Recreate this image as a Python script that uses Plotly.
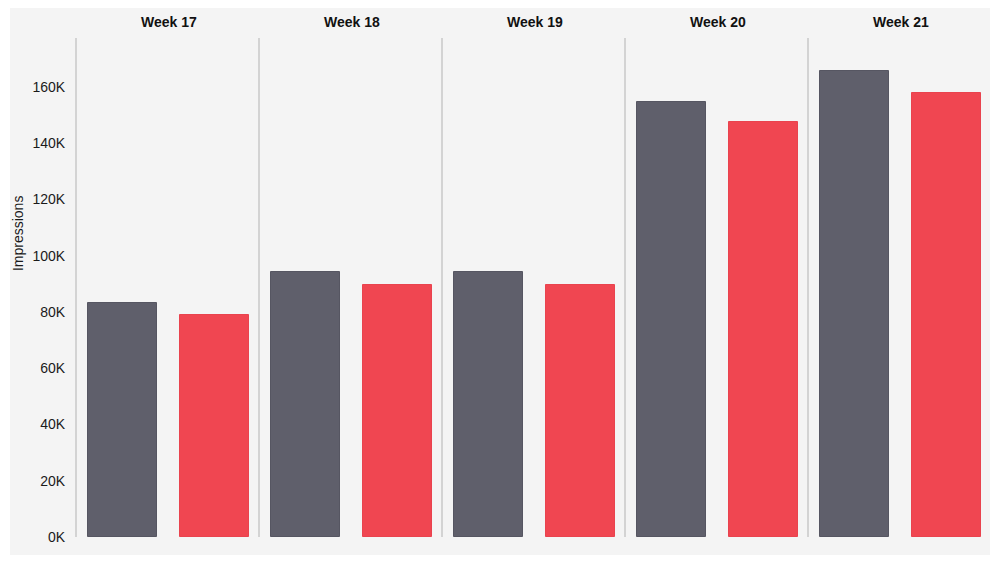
import plotly.graph_objects as go
from plotly.subplots import make_subplots

# values
weeks = ["Week 17", "Week 18", "Week 19", "Week 20", "Week 21"]
series_names = ["Series A", "Series B"]
series_a = [83200, 94200, 94200, 154700, 165700]
series_b = [78900, 89600, 89600, 147600, 157900]
tick_vals = [0, 20000, 40000, 60000, 80000, 100000, 120000, 140000, 160000]
tick_text = ["0K", "20K", "40K", "60K", "80K", "100K", "120K", "140K", "160K"]

GRAY = "#5f5f6b"
RED = "#f04651"
BG = "#f4f4f4"
FONT = "Liberation Sans, Arial, sans-serif"

fig = make_subplots(
    rows=1,
    cols=len(weeks),
    shared_yaxes=True,
    horizontal_spacing=0,
    subplot_titles=[f"<b>{w}</b>" for w in weeks],
)

for i, week in enumerate(weeks):
    fig.add_trace(
        go.Bar(
            x=series_names,
            y=[series_a[i], series_b[i]],
            width=0.755,
            marker=dict(
                color=[GRAY, RED],
                line=dict(color=["#565662", "#e9434e"], width=1),
            ),
            showlegend=False,
            hovertemplate=week + "<br>%{x}: %{y:,}<extra></extra>",
        ),
        row=1,
        col=i + 1,
    )

fig.update_xaxes(
    range=[-0.5, 1.5],
    showticklabels=False,
    showgrid=False,
    zeroline=False,
    showline=False,
    fixedrange=True,
)
fig.update_yaxes(
    range=[0, 177400],
    tickvals=tick_vals,
    ticktext=tick_text,
    ticks="",
    ticklabelstandoff=7,
    showgrid=False,
    zeroline=False,
    showline=True,
    linecolor="#d3d3d3",
    linewidth=2,
    tickfont=dict(family=FONT, size=14, color="#1a1a1a"),
)

# week headers
for ann in fig.layout.annotations:
    ann.update(yshift=6, font=dict(family=FONT, size=14, color="#111111"))

fig.add_annotation(
    text="Impressions",
    xref="paper",
    yref="paper",
    x=-0.0645,
    y=0.609,
    xanchor="center",
    yanchor="middle",
    textangle=-90,
    showarrow=False,
    font=dict(family=FONT, size=14, color="#1a1a1a"),
)

# light grey panel behind everything
fig.add_shape(
    type="rect",
    xref="paper",
    yref="paper",
    x0=-0.0732,
    x1=0.9978,
    y0=-0.040,
    y1=1.064,
    fillcolor=BG,
    line=dict(width=0),
    layer="below",
)

# the page body adds an 8px offset, so the figure is sized to fit inside it
fig.update_layout(
    width=984,
    height=547,
    margin=dict(l=69, r=0, t=30, b=18),
    paper_bgcolor="white",
    plot_bgcolor="rgba(0,0,0,0)",
    font=dict(family=FONT),
    bargap=0,
)

fig.write_html("out.html")
